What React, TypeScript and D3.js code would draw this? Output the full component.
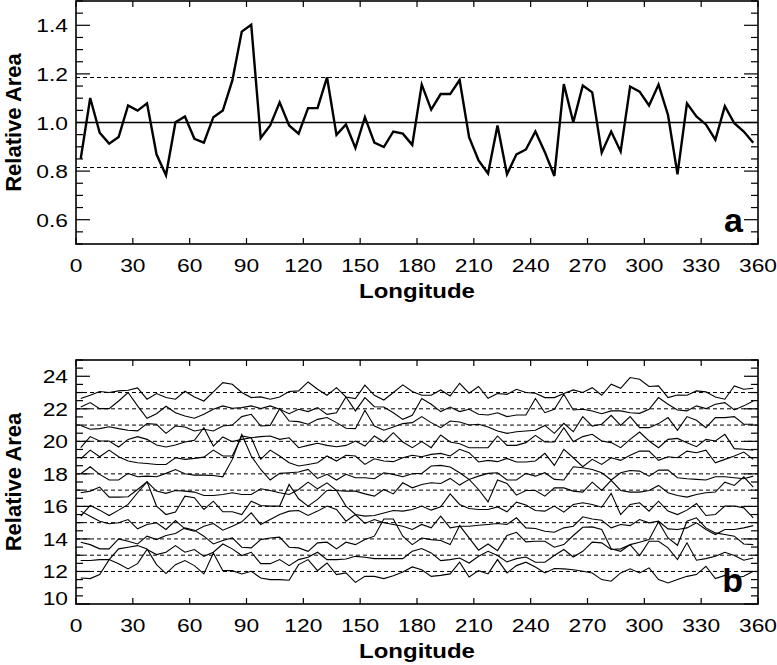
import React from "react";
import * as d3 from "d3";

// longitude bin centres, 5 degree bins
const longitudes = d3.range(2.5, 360, 5);

// panel a: relative area per longitude bin
const relArea = [
  0.851, 1.101, 0.958, 0.913, 0.94, 1.07, 1.049, 1.079, 0.869, 0.783, 1.001, 1.025, 0.933,
  0.917, 1.022, 1.049, 1.172, 1.374, 1.402, 0.936, 0.988, 1.083, 0.988, 0.954, 1.059, 1.059,
  1.186, 0.949, 0.992, 0.895, 1.022, 0.917, 0.899, 0.963, 0.954, 0.908, 1.156, 1.053, 1.117,
  1.117, 1.175, 0.94, 0.844, 0.79, 0.988, 0.787, 0.869, 0.889, 0.963,
  0.878, 0.78, 1.158, 1.001, 1.152, 1.124, 0.876, 0.963, 0.881, 1.148, 1.127, 1.07, 1.156,
  1.031, 0.787, 1.079, 1.025, 0.992, 0.929, 1.067, 0.997, 0.963, 0.917,
];
const meanA = 1.0;
const bandHiA = 1.185;
const bandLoA = 0.815;

// panel b: twelve offset curves, top to bottom
const b1 = [
  22.63, 22.83, 23.06, 23.0, 23.1, 23.14, 23.28, 22.59, 22.94, 22.69, 22.59, 23.08, 22.73, 22.48, 23.04, 23.61, 23.51, 23.0,
  22.69, 22.73, 22.59, 22.73, 23.06, 23.1, 23.65, 23.2, 22.83, 23.3, 22.73, 22.63, 23.45, 22.83, 22.54, 23.0, 23.47, 23.06,
  22.83, 22.83, 23.16, 22.79, 23.57, 22.96, 23.37, 22.65, 22.94, 22.89, 23.2, 23.0, 22.96, 22.69, 22.69, 22.94, 23.16, 23.0,
  23.3, 22.83, 23.51, 23.26, 23.92, 23.82, 23.37, 23.41, 22.69, 22.85, 22.83, 23.1, 23.04, 22.73, 22.59, 23.41, 23.2, 23.26,
];
const b2 = [
  22.11, 22.38, 22.01, 22.01, 22.48, 23.0, 22.18, 21.42, 21.7, 22.16, 21.76, 21.56, 21.42, 21.66, 21.97, 22.18, 22.03, 22.07,
  22.18, 22.01, 22.18, 21.97, 21.7, 21.97, 21.83, 22.07, 21.66, 21.76, 22.73, 21.87, 22.69, 22.13, 22.11, 21.76, 21.35, 21.6,
  22.63, 22.28, 21.83, 22.11, 21.83, 21.97, 21.66, 21.62, 21.76, 21.52, 21.62, 21.62, 22.63, 21.76, 21.97, 22.89, 21.93, 21.97,
  21.87, 21.7, 21.87, 21.87, 21.76, 21.72, 21.97, 22.69, 22.28, 21.93, 21.87, 22.18, 22.01, 22.28, 22.38, 21.93, 22.18, 22.48,
];
const b3 = [
  20.98, 20.74, 20.78, 20.9, 20.78, 20.68, 20.64, 21.09, 21.05, 20.49, 20.94, 20.88, 20.64, 20.74, 20.64, 20.94, 21.0, 21.52,
  21.66, 20.94, 20.98, 22.01, 21.25, 21.21, 21.05, 21.35, 21.46, 21.15, 20.8, 20.78, 21.91, 20.94, 20.68, 20.88, 21.09, 21.15,
  21.52, 21.15, 20.84, 21.25, 21.19, 21.0, 21.05, 20.88, 20.64, 20.49, 20.59, 20.64, 20.68, 20.98, 20.49, 21.11, 20.59, 21.52,
  20.94, 21.05, 21.6, 20.98, 21.52, 20.84, 20.84, 21.09, 21.46, 20.68, 21.52, 21.29, 20.84, 21.46, 21.46, 21.52, 21.05, 21.05,
];
const b4 = [
  19.61, 20.29, 20.02, 20.02, 19.65, 20.12, 20.29, 20.12, 19.77, 19.65, 19.77, 19.96, 20.06, 20.84, 19.71, 20.27, 19.98, 20.12,
  20.22, 20.29, 20.33, 20.12, 20.22, 19.61, 19.75, 19.88, 19.75, 19.67, 19.75, 20.02, 19.71, 20.33, 19.96, 20.53, 19.96, 19.61,
  19.98, 19.61, 20.39, 19.96, 19.85, 19.61, 19.61, 19.61, 20.33, 19.75, 19.75, 19.92, 20.37, 19.96, 19.96, 20.84, 19.98, 20.29,
  20.43, 20.02, 19.92, 19.61, 20.12, 20.57, 20.02, 19.61, 20.12, 20.18, 19.92, 19.67, 20.12, 20.02, 20.43, 19.55, 19.51, 19.46,
];
const b5 = [
  18.93, 19.46, 19.05, 19.46, 19.05, 18.79, 18.68, 18.64, 18.58, 18.58, 18.99, 18.89, 18.95, 19.03, 19.46, 19.1, 19.1, 20.33,
  20.22, 18.89, 19.46, 19.1, 18.68, 18.48, 18.58, 18.68, 19.1, 18.79, 19.14, 19.1, 18.58, 18.93, 18.79, 18.75, 18.99, 19.14,
  19.05, 19.2, 19.26, 19.1, 19.51, 19.3, 18.73, 18.83, 18.75, 18.95, 18.73, 18.73, 18.79, 19.26, 18.52, 19.51, 18.99, 18.44,
  18.89, 18.58, 18.99, 18.83, 19.14, 19.4, 19.4, 18.83, 19.05, 18.99, 19.4, 19.3, 19.46, 18.68, 18.89, 19.1, 19.34, 18.89,
];
const b6 = [
  18.01, 18.44, 17.97, 17.62, 17.62, 18.03, 17.82, 17.86, 17.82, 18.03, 18.27, 18.01, 17.92, 17.92, 17.9, 17.82, 18.89, 20.43,
  19.1, 18.27, 17.62, 18.03, 18.07, 18.11, 18.27, 17.72, 17.97, 17.62, 17.97, 17.76, 17.76, 17.7, 18.07, 17.97, 17.82, 18.01,
  18.03, 18.48, 18.52, 18.42, 18.07, 17.66, 17.86, 18.03, 18.07, 17.62, 17.62, 18.03, 17.86, 18.07, 17.66, 17.62, 18.44, 18.38,
  18.27, 18.07, 17.62, 18.07, 18.21, 18.17, 17.86, 18.23, 18.23, 17.76, 17.7, 17.66, 17.62, 17.82, 17.82, 17.76, 17.7, 17.86,
];
const b7 = [
  16.84, 16.94, 17.19, 16.57, 16.57, 16.59, 17.04, 17.51, 16.94, 16.8, 16.98, 16.94, 16.88, 16.67, 16.67, 16.73, 16.84, 16.73,
  16.73, 17.08, 16.98, 16.84, 16.73, 17.04, 17.49, 17.08, 17.45, 16.98, 16.94, 16.94, 16.77, 16.63, 17.04, 16.77, 17.45, 17.14,
  17.35, 17.45, 17.41, 17.72, 17.31, 17.66, 17.04, 16.28, 17.62, 17.41, 16.69, 16.98, 16.98, 16.63, 17.14, 17.14, 16.94, 16.88,
  17.49, 16.98, 17.6, 16.98, 16.88, 16.88, 16.98, 17.29, 16.84, 16.67, 16.57, 16.73, 16.84, 16.88, 17.49, 17.29, 17.82, 17.19,
];
const b8 = [
  15.4, 16.06, 15.77, 15.44, 15.77, 16.12, 16.84, 17.51, 16.02, 15.5, 15.65, 16.63, 16.53, 15.81, 16.32, 15.67, 15.67, 15.5,
  16.32, 16.06, 16.02, 16.02, 17.35, 16.47, 16.02, 16.43, 16.98, 16.98, 16.02, 15.5, 15.4, 15.44, 15.6, 15.75, 15.71, 15.81,
  16.02, 15.77, 15.97, 16.77, 16.12, 15.87, 15.81, 15.81, 15.97, 15.67, 16.26, 16.08, 15.75, 15.71, 16.02, 15.65, 16.12, 16.22,
  16.12, 15.95, 16.8, 15.5, 16.12, 16.22, 15.71, 16.32, 15.71, 15.5, 15.77, 16.18, 15.44, 15.5, 16.02, 16.02, 15.91, 15.3,
];
const b9 = [
  15.71, 15.4, 15.09, 14.93, 14.99, 15.19, 14.62, 14.89, 14.99, 14.58, 15.13, 14.62, 14.47, 14.78, 14.95, 14.54, 14.78, 15.05,
  15.6, 14.89, 15.19, 15.5, 15.71, 15.75, 15.44, 15.71, 16.02, 15.81, 15.09, 15.5, 14.95, 15.19, 14.99, 14.89, 14.78, 14.58,
  14.89, 14.68, 15.4, 14.68, 14.78, 14.78, 14.84, 14.89, 14.95, 14.89, 15.3, 14.68, 14.64, 14.47, 14.41, 14.68, 14.78, 15.36,
  15.23, 15.15, 14.68, 14.89, 14.82, 15.19, 14.99, 15.09, 14.62, 14.58, 14.68, 14.99, 14.58, 14.27, 14.58, 14.58, 14.68, 14.82,
];
const b10 = [
  13.8, 13.65, 13.39, 13.39, 14.0, 13.86, 13.69, 14.17, 13.96, 14.21, 14.33, 14.68, 14.54, 14.17, 13.69, 13.9, 14.06, 13.49,
  13.45, 13.96, 14.06, 14.11, 13.49, 13.45, 13.24, 13.76, 13.8, 13.39, 13.8, 13.65, 13.96, 14.17, 15.23, 15.23, 14.17, 13.65,
  14.06, 13.96, 13.9, 13.65, 14.82, 14.06, 13.31, 13.69, 13.28, 14.21, 14.41, 13.82, 13.86, 13.86, 13.49, 13.65, 14.21, 14.72,
  14.74, 14.58, 13.39, 13.24, 13.65, 13.8, 13.96, 15.05, 14.06, 13.61, 15.09, 15.3, 14.68, 14.37, 14.27, 14.17, 13.69, 13.65,
];
const b11 = [
  12.67, 12.67, 12.73, 12.73, 12.48, 12.16, 12.48, 13.35, 13.04, 13.18, 13.59, 13.18, 13.35, 12.93, 13.18, 13.69, 13.39, 12.98,
  13.18, 12.48, 12.48, 12.73, 12.36, 12.73, 12.87, 13.18, 12.73, 12.73, 12.77, 12.93, 12.87, 12.79, 12.79, 12.79, 12.79, 13.24,
  13.41, 13.14, 12.67, 12.73, 12.83, 12.52, 12.93, 13.24, 12.98, 12.59, 12.79, 12.89, 12.57, 12.57, 12.98, 13.35, 12.89, 13.24,
  13.8, 13.76, 13.35, 13.39, 13.65, 12.98, 13.86, 13.86, 13.45, 12.73, 13.76, 12.69, 12.79, 12.93, 13.18, 12.98, 12.69, 12.83,
];
const b12 = [
  11.6, 11.56, 11.81, 12.73, 13.39, 13.49, 13.59, 13.39, 12.42, 11.87, 12.42, 12.67, 12.36, 11.85, 13.14, 12.05, 12.05, 11.85,
  12.01, 11.6, 11.5, 11.5, 11.46, 12.42, 12.73, 12.05, 12.52, 11.81, 11.91, 11.33, 11.7, 11.7, 11.56, 11.74, 11.97, 12.28,
  12.11, 11.7, 11.76, 11.85, 12.57, 11.66, 12.05, 11.85, 12.73, 11.91, 12.36, 12.57, 12.28, 11.91, 12.18, 12.16, 12.11, 12.01,
  11.91, 11.5, 11.4, 11.91, 12.16, 11.91, 12.22, 11.5, 11.29, 11.5, 11.7, 11.81, 12.32, 11.56, 11.76, 11.6, 11.7, 12.01,
];
const seriesB = [b1, b2, b3, b4, b5, b6, b7, b8, b9, b10, b11, b12];
const baselinesB = [23, 22, 21, 20, 19, 18, 17, 16, 15, 14, 13, 12];

const xTicks = [0, 30, 60, 90, 120, 150, 180, 210, 240, 270, 300, 330, 360];
const yTicksA = [0.6, 0.8, 1.0, 1.2, 1.4];
const yTicksB = [10, 12, 14, 16, 18, 20, 22, 24];

const W = 777;
const H = 665;
const plotLeft = 76;
const plotRight = 758;
const font = "'Liberation Sans', Arial, Helvetica, sans-serif";
const stretch = 1.2; // glyphs in the reference are a bit wide

type PanelProps = {
  top: number;
  bottom: number;
  domain: [number, number];
  majors: number[];
  minorStep: number;
  fmt: (v: number) => string;
  tag: string;
  children: (x: d3.ScaleLinear<number, number>, y: d3.ScaleLinear<number, number>) => React.ReactNode;
};

function Panel({ top, bottom, domain, majors, minorStep, fmt, tag, children }: PanelProps) {
  const x = d3.scaleLinear().domain([0, 360]).range([plotLeft, plotRight]);
  const y = d3.scaleLinear().domain(domain).range([bottom, top]);
  const nMinor = Math.round((domain[1] - domain[0]) / minorStep);
  const minors = d3.range(nMinor + 1).map((i) => domain[0] + i * minorStep);

  return (
    <g>
      {children(x, y)}

      {/* y ticks, both sides, pointing inward */}
      {minors.map((v, i) => {
        const isMajor = majors.some((m) => Math.abs(m - v) < 1e-6);
        const len = isMajor ? 14 : 7;
        return (
          <g key={"yt" + i}>
            <line x1={plotLeft} x2={plotLeft + len} y1={y(v)} y2={y(v)} stroke="#000" strokeWidth={1.2} />
            <line x1={plotRight} x2={plotRight - len} y1={y(v)} y2={y(v)} stroke="#000" strokeWidth={1.2} />
          </g>
        );
      })}
      {xTicks.map((t) => (
        <g key={"xt" + t}>
          <line x1={x(t)} x2={x(t)} y1={bottom} y2={bottom - 6} stroke="#000" strokeWidth={1.2} />
          <line x1={x(t)} x2={x(t)} y1={top} y2={top + 6} stroke="#000" strokeWidth={1.2} />
        </g>
      ))}

      <rect x={plotLeft} y={top} width={plotRight - plotLeft} height={bottom - top} fill="none" stroke="#000" strokeWidth={1.6} />

      {/* tick labels */}
      {majors.map((v) => {
        const ty = Math.min(y(v), bottom - 6) + 7;
        return (
          <text key={"yl" + v} transform={`translate(68,${ty}) scale(${stretch},1)`} textAnchor="end" fontSize={19} fontFamily={font}>
            {fmt(v)}
          </text>
        );
      })}
      {xTicks.map((t) => (
        <text key={"xl" + t} transform={`translate(${x(t)},${bottom + 28}) scale(${stretch},1)`} textAnchor="middle" fontSize={19} fontFamily={font}>
          {t}
        </text>
      ))}

      <text transform={`translate(${(plotLeft + plotRight) / 2},${bottom + 54}) scale(${stretch},1)`} textAnchor="middle" fontSize={20} fontWeight="bold" fontFamily={font}>
        Longitude
      </text>
      <text transform={`translate(21,${(top + bottom) / 2}) rotate(-90)`} textAnchor="middle" fontSize={22} fontWeight="bold" fontFamily={font}>
        Relative Area
      </text>

      <text x={743} y={bottom - 12} textAnchor="end" fontSize={34} fontWeight="bold" fontFamily={font}>
        {tag}
      </text>
    </g>
  );
}

export default function App() {
  return (
    <div style={{ position: "absolute", left: 0, top: 0 }}>
      <svg width={W} height={H} viewBox={`0 0 ${W} ${H}`} style={{ display: "block", background: "#fff" }}>
        <Panel top={1} bottom={244} domain={[0.5, 1.5]} majors={yTicksA} minorStep={0.05} fmt={d3.format(".1f")} tag="a">
          {(x, y) => {
            const line = d3
              .line<number>()
              .x((_, i) => x(longitudes[i]))
              .y((d) => y(d));
            return (
              <g>
                <line x1={plotLeft} x2={plotRight} y1={y(bandHiA)} y2={y(bandHiA)} stroke="#000" strokeWidth={1.1} strokeDasharray="4,3" />
                <line x1={plotLeft} x2={plotRight} y1={y(bandLoA)} y2={y(bandLoA)} stroke="#000" strokeWidth={1.1} strokeDasharray="4,3" />
                <line x1={plotLeft} x2={plotRight} y1={y(meanA)} y2={y(meanA)} stroke="#000" strokeWidth={1.4} />
                <path d={line(relArea) ?? ""} fill="none" stroke="#000" strokeWidth={2.4} />
              </g>
            );
          }}
        </Panel>

        <Panel top={360} bottom={604} domain={[10, 25]} majors={yTicksB} minorStep={0.5} fmt={(v) => String(v)} tag="b">
          {(x, y) => {
            const line = d3
              .line<number>()
              .x((_, i) => x(longitudes[i]))
              .y((d) => y(d));
            return (
              <g>
                {baselinesB.map((b) => (
                  <line key={"base" + b} x1={plotLeft} x2={plotRight} y1={y(b)} y2={y(b)} stroke="#000" strokeWidth={1} strokeDasharray="4,3" />
                ))}
                {seriesB.map((s, i) => (
                  <path key={"s" + i} d={line(s) ?? ""} fill="none" stroke="#000" strokeWidth={1.1} />
                ))}
              </g>
            );
          }}
        </Panel>
      </svg>
    </div>
  );
}
